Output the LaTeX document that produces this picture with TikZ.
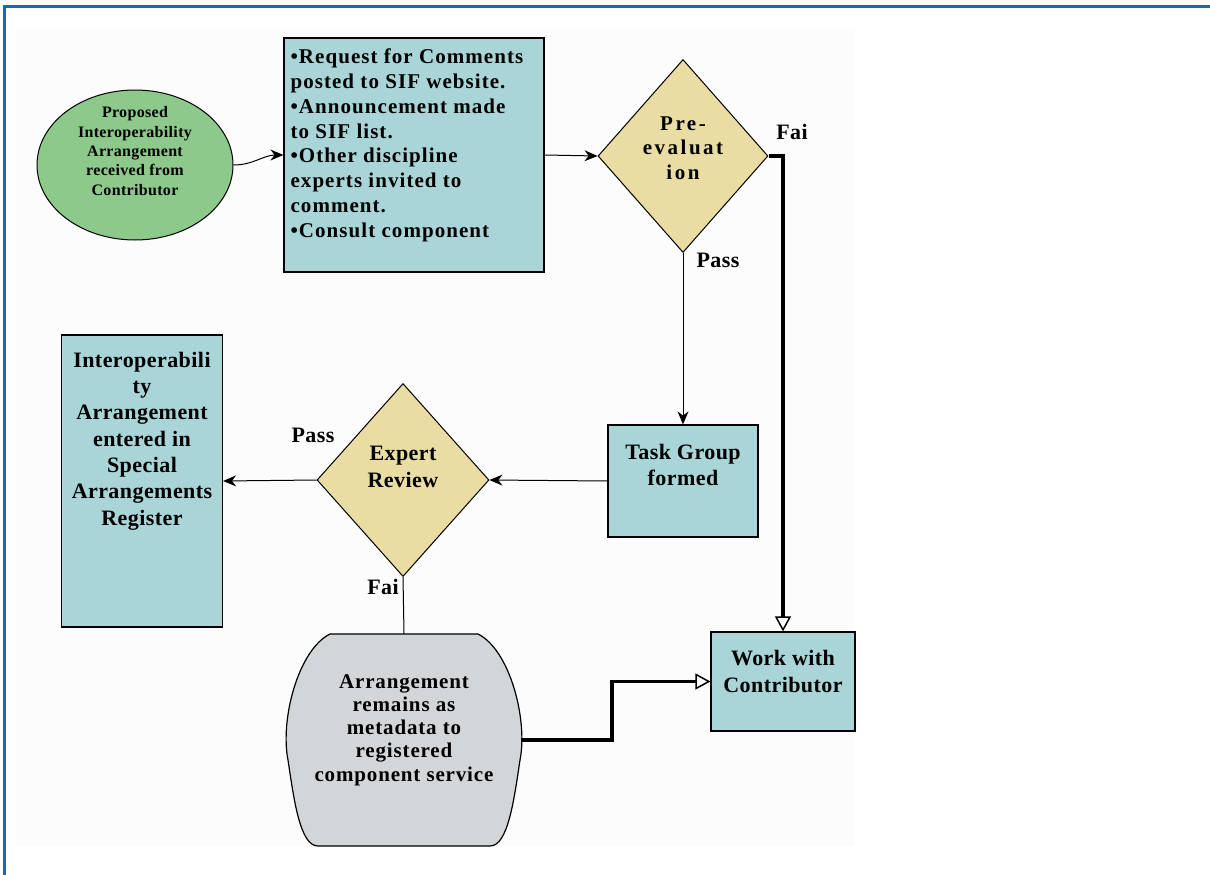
\documentclass[tikz,border=0pt]{standalone}
\usepackage{fontspec}
\setmainfont{Liberation Serif}
\usetikzlibrary{shapes.geometric,arrows.meta,positioning}
\definecolor{frameblue}{HTML}{1A6AB2}
\definecolor{boxcyan}{HTML}{A9D5D9}
\definecolor{startgreen}{HTML}{8DC98B}
\definecolor{decisiontan}{HTML}{E9DDA4}
\definecolor{storegrey}{HTML}{D3D6D8}
\def\fs#1#2#3{\bfseries\fontsize{#1}{#2}\selectfont\addfontfeature{LetterSpace=#3}}
\tikzset{
  box/.style={draw,fill=boxcyan,line width=1.2pt,inner sep=0},
  decision/.style={draw,diamond,fill=decisiontan,line width=1pt,inner sep=0},
  txt/.style={align=center,inner sep=0,font=\fs{22}{26.5}{2}},
  tag/.style={inner sep=0,font=\fs{22}{24}{2}},
  flow/.style={line width=1pt,-{Stealth[length=13pt,width=11pt]}},
  back/.style={line width=3.5pt,-{Triangle[open,length=15pt,width=16pt,line width=1.5pt,fill=white]}}
}

\begin{document}
\begin{tikzpicture}[x=1pt,y=-1pt]
  \useasboundingbox (0,0) rectangle (1210,875);
  \fill[black!1] (15,28) rectangle (855,846);
  \draw[frameblue,line width=3pt] (4,875) -- (4,7) -- (1210,7);

  \node[ellipse,draw,fill=startgreen,line width=1pt,minimum width=196,minimum height=150] (prop) at (135,165) {};
  \node[txt,font=\fs{16}{19.3}{2}] (propt) at ([yshift=14]prop.center)
    {Proposed\\Interoperability\\Arrangement\\received from\\Contributor};

  \node[box,minimum width=260,minimum height=234] (rfc) at (414,155) {};
  \node[txt,align=left,anchor=north west,font=\fs{21}{24.9}{5}] (rfct) at ([xshift=7,yshift=-11]rfc.north west)
    {\textbullet Request for Comments\\posted to SIF website.\\\textbullet Announcement made\\to SIF list.\\\textbullet Other discipline\\experts invited to\\comment.\\\textbullet Consult component};

  \node[decision,minimum width=170,minimum height=193] (pre) at (683,156) {};
  \node[txt,font=\fs{21}{24.5}{12}] (pret) at ([yshift=8]pre.center) {Pre-\\evaluat\\ion};

  \node[box,minimum width=150,minimum height=112] (task) at (683,481) {};
  \node[txt] (taskt) at ([yshift=16]task.center) {Task Group\\formed};

  \node[decision,minimum width=172,minimum height=193] (exp) at (403,480) {};
  \node[txt] (expt) at ([yshift=13]exp.center) {Expert\\Review};

  \node[box,minimum width=161,minimum height=292] (reg) at (142,481) {};
  \node[txt,font=\fs{22}{26.3}{2}] (regt) at ([yshift=40]reg.center)
    {Interoperabili\\ty\\Arrangement\\entered in\\Special\\Arrangements\\Register};

  \node[minimum width=234,minimum height=212,inner sep=0] (store) at (404,740) {};
  \draw[fill=storegrey,line width=1.2pt,shift={(store.center)}]
    (-74,-106) -- (74,-106) .. controls (106,-90) and (124,-20) .. (116,20)
    .. controls (110,60) and (104,106) .. (86,106) -- (-86,106)
    .. controls (-104,106) and (-110,60) .. (-116,20)
    .. controls (-124,-20) and (-106,-90) .. (-74,-106) -- cycle;
  \node[txt,font=\fs{21}{23.2}{4}] (storet) at ([yshift=10]store.center)
    {Arrangement\\remains as\\metadata to\\registered\\component service};

  \node[box,minimum width=144,minimum height=99] (work) at (783,681.5) {};
  \node[txt] (workt) at ([yshift=10]work.center) {Work with\\Contributor};

  \node[tag] (prefail) at (792,132) {Fai};
  \node[tag] (prepass) at (718,260) {Pass};
  \node[tag] (exppass) at (313,435) {Pass};
  \node[tag] (expfail) at (383,587) {Fai};

  \draw[flow] (prop.east) to[out=0,in=180] (rfc.west);
  \draw[flow] (rfc.east) -- (pre.west);
  \draw[flow] (pre.south) -- (task.north);
  \draw[flow] (task.west) -- (exp.east);
  \draw[flow] (exp.west) -- (reg.east);
  \draw[line width=1pt] (exp.south) -- (store.north);
  \draw[back] (pre.east) -| (work.north);
  \draw[back] (store.east) -- ++(91,0) |- (work.west);
\end{tikzpicture}
\end{document}
